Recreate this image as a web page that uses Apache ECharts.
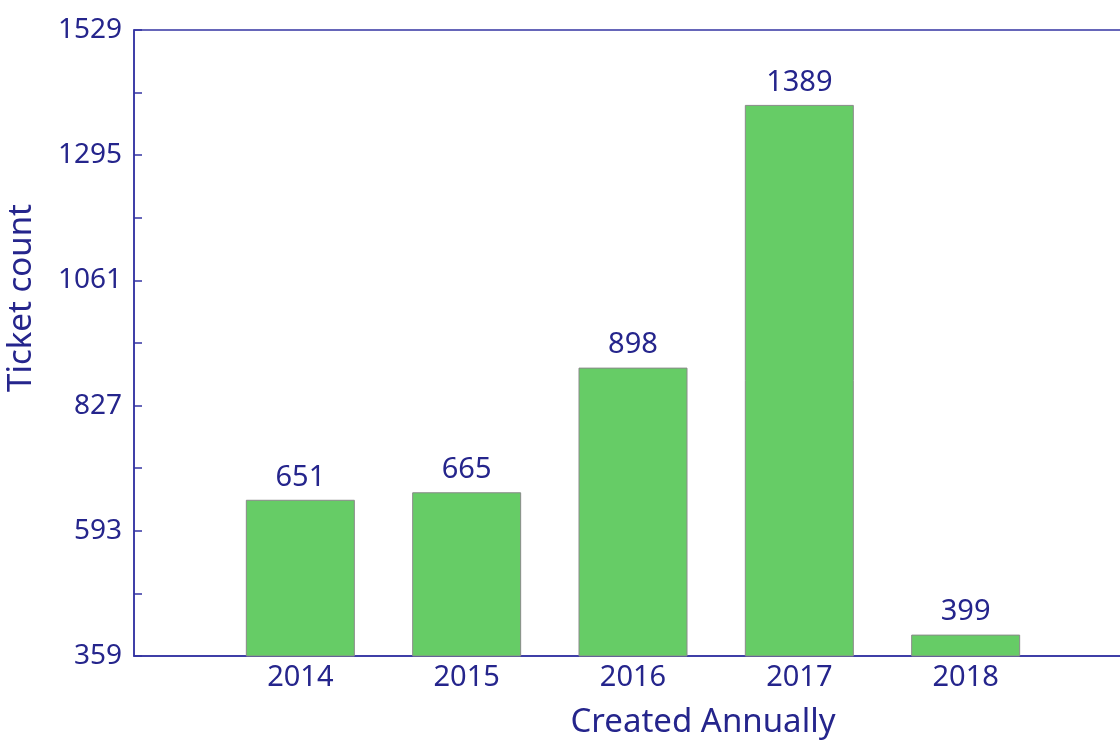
<!DOCTYPE html>
<html>
<head>
<meta charset="utf-8">
<script src="https://cdn.jsdelivr.net/npm/echarts@6/dist/echarts.min.js"></script>
<style>html,body{margin:0;padding:0;background:#fff}#c{width:1120px;height:741px}</style>
</head>
<body>
<div id="c"></div>
<script>
var years = [2014, 2015, 2016, 2017, 2018];
var ticketCounts = [651, 665, 898, 1389, 399];
var yTicks = [359, 593, 827, 1061, 1295, 1529];

var textColor = '#25258c';
var lineColor = '#3535a3';
var font = 'Noto Sans';

var chart = echarts.init(document.getElementById('c'));
chart.setOption({
  animation: false,
  grid: { left: 134, top: 30, bottom: 85, right: -12, show: true, borderColor: lineColor, borderWidth: 1.5,
    containLabel: false, outerBoundsMode: 'none' },
  xAxis: {
    type: 'value', min: 2013, max: 2019, interval: 1,
    name: 'Created Annually', nameLocation: 'middle', nameGap: 50,
    nameTextStyle: { fontFamily: font, fontSize: 33, color: textColor, padding: [0, 0, 0, 140] },
    axisLine: { show: true, lineStyle: { color: lineColor, width: 1.5 } },
    axisTick: { show: false },
    splitLine: { show: false },
    axisLabel: {
      fontFamily: font, fontSize: 29, color: textColor, margin: 7,
      formatter: function (v) { return years.indexOf(v) >= 0 ? String(v) : ''; }
    }
  },
  yAxis: {
    type: 'value', min: yTicks[0], max: yTicks[yTicks.length - 1], interval: yTicks[1] - yTicks[0],
    name: 'Ticket count', nameLocation: 'middle', nameGap: 96, nameRotate: 90,
    nameTextStyle: { fontFamily: font, fontSize: 33, color: textColor, padding: [0, 0, 0, 90] },
    axisLine: { show: true, lineStyle: { color: lineColor, width: 1.5 } },
    axisTick: { show: true, inside: true, length: 8, lineStyle: { color: lineColor, width: 1.5 } },
    minorTick: { show: true, splitNumber: 2, length: 8, lineStyle: { color: lineColor, width: 1.5 } },
    splitLine: { show: false },
    axisLabel: { fontFamily: font, fontSize: 28, color: textColor, margin: 12,
      formatter: function (v) { return String(v); } }
  },
  series: [{
    type: 'bar',
    data: years.map(function (y, i) { return [y, ticketCounts[i]]; }),
    barWidth: 109,
    itemStyle: { color: '#66cc66', borderColor: '#8a8a8a', borderWidth: 1 },
    label: { show: true, position: 'top', distance: 8, fontFamily: font, fontSize: 29, color: textColor,
      formatter: function (p) { return p.value[1]; } }
  }]
});
</script>
</body>
</html>
